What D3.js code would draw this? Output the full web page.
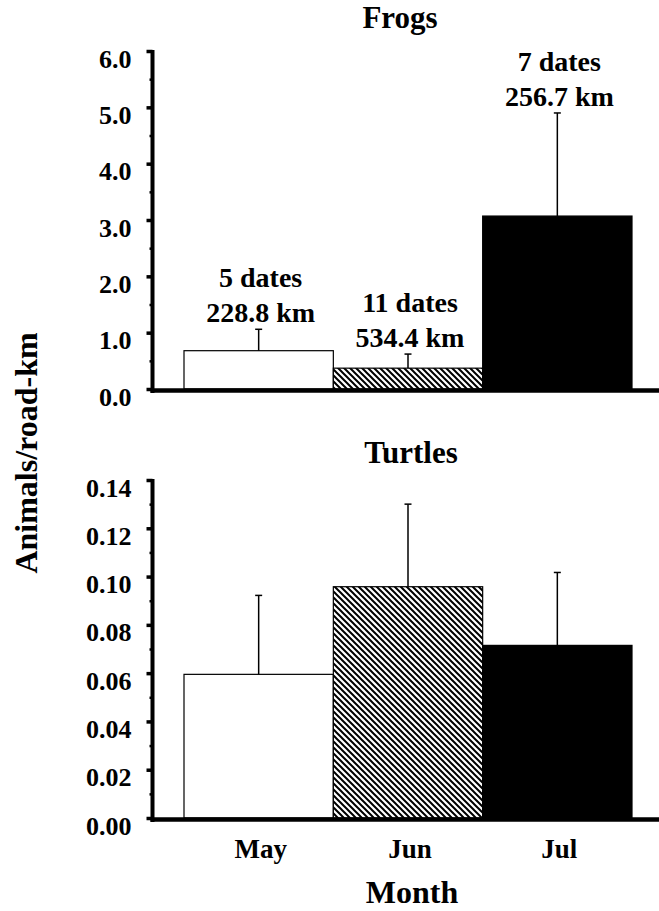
<!DOCTYPE html>
<html>
<head>
<meta charset="utf-8">
<script src="https://cdn.jsdelivr.net/npm/d3@7/dist/d3.min.js"></script>
<style>
  html, body { margin: 0; padding: 0; background: #fff; }
</style>
</head>
<body>
<svg id="chart" width="659" height="911" style="font-family: 'Liberation Serif', 'DejaVu Serif', serif; font-weight: bold;"></svg>
<script>
// ---- data ----
const months = ["May", "Jun", "Jul"];
const frogMeans = [0.68, 0.37, 3.07];
const frogErrTops = [1.06, 0.62, 4.90];
const frogDates = ["5 dates", "11 dates", "7 dates"];
const frogKm = ["228.8 km", "534.4 km", "256.7 km"];
const frogTicks = ["0.0", "1.0", "2.0", "3.0", "4.0", "5.0", "6.0"];
const turtleMeans = [0.0595, 0.0958, 0.0715];
const turtleErrTops = [0.0922, 0.1300, 0.1017];
const turtleTicks = ["0.00", "0.02", "0.04", "0.06", "0.08", "0.10", "0.12", "0.14"];
const titles = ["Frogs", "Turtles"];
const yTitle = "Animals/road-km";
const xTitle = "Month";

// ---- drawing ----
const FONT = "'Liberation Serif', 'DejaVu Serif', serif";
const svg = d3.select("#chart");
const defs = svg.append("defs");
const pat = defs.append("pattern")
  .attr("id", "hatch").attr("patternUnits", "userSpaceOnUse")
  .attr("width", 6).attr("height", 6);
pat.append("rect").attr("width", 6).attr("height", 6).attr("fill", "#fff");
pat.append("path")
  .attr("d", "M-1,-1 L7,7 M-4,2 L1,7 M5,-1 L10,4")
  .attr("stroke", "#000").attr("stroke-width", 2);

function txt(sel, size) {
  return sel.attr("font-family", FONT).attr("font-weight", "bold")
    .style("font-family", FONT).style("font-weight", "bold")
    .style("font-size", size + "px").attr("fill", "#000");
}

const fills = ["#fff", "url(#hatch)", "#000"];
const axisX = 152.5;
const x = d3.scaleBand().domain(months).range([184, 632]).padding(0);

function panel(opts) {
  const { top, bottom, max, means, errs, ticks, minorStep, title, titleX, titleY } = opts;
  const y = d3.scaleLinear().domain([0, max]).range([bottom, top]);
  const g = svg.append("g");

  g.selectAll("rect.bar").data(means).enter().append("rect")
    .attr("class", "bar")
    .attr("x", (d, i) => x(months[i]))
    .attr("y", d => y(d))
    .attr("width", x.bandwidth())
    .attr("height", d => y(0) - y(d))
    .attr("fill", (d, i) => fills[i])
    .attr("stroke", "#000").attr("stroke-width", 1.2);

  const cx = i => x(months[i]) + x.bandwidth() / 2;
  g.selectAll("line.err").data(errs).enter().append("line")
    .attr("x1", (d, i) => cx(i)).attr("x2", (d, i) => cx(i))
    .attr("y1", (d, i) => y(means[i])).attr("y2", d => y(d))
    .attr("stroke", "#000").attr("stroke-width", 1.5);
  g.selectAll("line.cap").data(errs).enter().append("line")
    .attr("x1", (d, i) => cx(i) - 3.5).attr("x2", (d, i) => cx(i) + 3.5)
    .attr("y1", d => y(d)).attr("y2", d => y(d))
    .attr("stroke", "#000").attr("stroke-width", 1.5);

  const minor = d3.range(0, max + minorStep / 2, minorStep);
  const minorAxis = d3.axisLeft(y).tickValues(minor).tickSize(3).tickFormat("");
  const mg = g.append("g").attr("transform", `translate(${axisX},0)`).call(minorAxis);
  mg.select(".domain").remove();
  mg.selectAll("line").attr("stroke-width", 2.5);

  const tickVals = ticks.map(Number);
  const majorAxis = d3.axisLeft(y).tickValues(tickVals).tickSize(6)
    .tickFormat((d, i) => ticks[i]).tickPadding(0);
  const ag = g.append("g").attr("transform", `translate(${axisX},0)`).call(majorAxis);
  ag.attr("font-family", null).attr("font-size", null);
  ag.select(".domain").remove();
  ag.selectAll("line").attr("stroke-width", 3.5);
  txt(ag.selectAll("text"), 26)
    .attr("x", -21).attr("dy", null).attr("y", 16).attr("text-anchor", "end");

  g.append("line").attr("x1", axisX).attr("x2", axisX)
    .attr("y1", y(max) - 1).attr("y2", y(0) + 4)
    .attr("stroke", "#000").attr("stroke-width", 4);
  g.append("line").attr("x1", axisX - 2).attr("x2", 659)
    .attr("y1", y(0) + 1.5).attr("y2", y(0) + 1.5)
    .attr("stroke", "#000").attr("stroke-width", 4.5);

  txt(g.append("text").attr("x", titleX).attr("y", titleY)
    .attr("text-anchor", "middle"), 31).text(title);

  return { g, y, cx };
}

const fr = panel({ top: 51, bottom: 389, max: 6, means: frogMeans, errs: frogErrTops,
  ticks: frogTicks, minorStep: 0.5, title: titles[0], titleX: 400, titleY: 28 });

const ann = fr.g.append("g");
frogErrTops.forEach((e, i) => {
  const base = fr.y(e) - 7;
  txt(ann.append("text").attr("x", fr.cx(i) + 2).attr("y", base)
    .attr("text-anchor", "middle"), 28).text(frogKm[i]);
  txt(ann.append("text").attr("x", fr.cx(i) + 2).attr("y", base - 35)
    .attr("text-anchor", "middle"), 28).text(frogDates[i]);
});

const tu = panel({ top: 480, bottom: 818, max: 0.14, means: turtleMeans, errs: turtleErrTops,
  ticks: turtleTicks, minorStep: 0.01, title: titles[1], titleX: 411, titleY: 463 });

txt(svg.append("g").selectAll("text").data(months).enter().append("text")
  .attr("x", d => x(d) + x.bandwidth() / 2 + 2)
  .attr("y", 858)
  .attr("text-anchor", "middle"), 27).text(d => d);

txt(svg.append("text").attr("x", 412).attr("y", 903)
  .attr("text-anchor", "middle"), 32).text(xTitle);
txt(svg.append("text").attr("transform", "translate(37,453) rotate(-90)")
  .attr("text-anchor", "middle"), 32).text(yTitle);
</script>
</body>
</html>
